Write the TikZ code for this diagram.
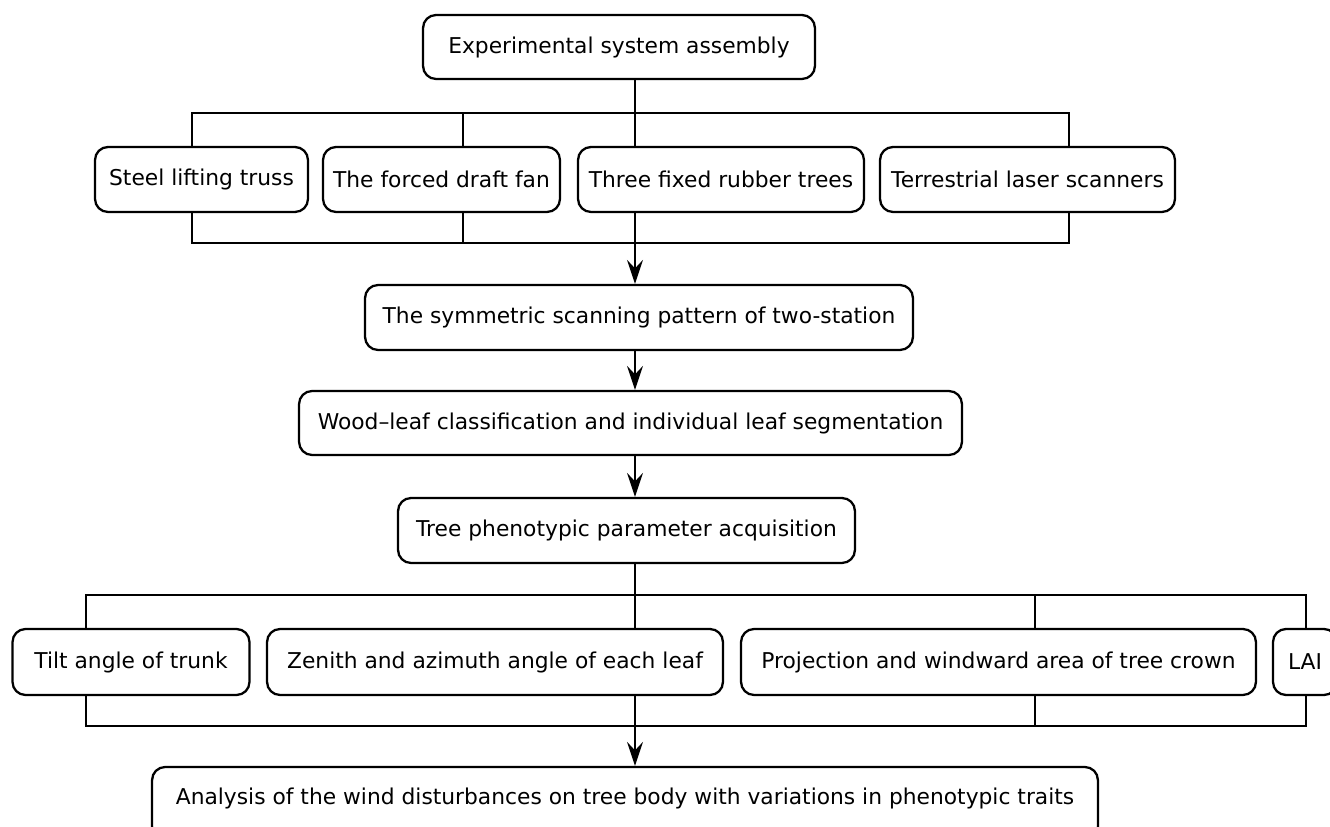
\documentclass[tikz,border=0pt]{standalone}
\usepackage{fontspec}
\setmainfont{DejaVu Sans}
\usetikzlibrary{arrows.meta,positioning}

\begin{document}
\begin{tikzpicture}[
    x=0.02cm,y=-0.02cm,
    box/.style={draw,line width=1.3pt,rounded corners=0.26cm,fill=white,
      minimum height=1.3cm,inner sep=0pt,align=center,
      font=\fontsize{12.4pt}{14pt}\selectfont},
    link/.style={line width=0.75pt},
    arr/.style={link,-{Stealth[length=0.48cm,width=0.32cm,inset=0.17cm]}}
  ]
    \useasboundingbox (0,0) rectangle (1330,827);
    \clip (0,0) rectangle (1330,827);
    \coordinate (spine) at (635,0);

    \node[box,minimum width=7.84cm,minimum height=1.28cm] (assembly) at (619,47) {Experimental system assembly};

    \node[box,minimum width=4.26cm] (truss) at (201.5,179.5) {Steel lifting truss};
    \node[box,minimum width=4.74cm] (fan) at (441.5,179.5) {The forced draft fan};
    \node[box,minimum width=5.72cm] (trees) at (721,179.5) {Three fixed rubber trees};
    \node[box,minimum width=5.9cm] (tls) at (1027.5,179.5) {Terrestrial laser scanners};

    \node[box,minimum width=10.96cm] (pattern) at (639,317.5) {The symmetric scanning pattern of two-station};
    \node[box,minimum width=13.26cm,minimum height=1.28cm] (woodleaf) at (630.5,423) {Wood–leaf classification and individual leaf segmentation};
    \node[box,minimum width=9.14cm] (phenotype) at (626.5,530.5) {Tree phenotypic parameter acquisition};

    \node[box,minimum width=4.74cm,minimum height=1.32cm] (tilt) at (131,662) {Tilt angle of trunk};
    \node[box,minimum width=9.12cm,minimum height=1.32cm] (zenith) at (495,662) {Zenith and azimuth angle of each leaf};
    \node[box,minimum width=10.3cm,minimum height=1.32cm] (crown) at (998.5,662) {Projection and windward area of tree crown};
    \node[box,minimum width=1.28cm,minimum height=1.32cm] (lai) at (1305,662) {LAI};

    % runs off the lower edge
    \node[box,minimum width=18.92cm,minimum height=0pt,text height=0.76cm,text depth=0.7cm,
      anchor=base] (analysis) at (625,805) {Analysis of the wind disturbances on tree body with variations in phenotypic traits};

    % bus corners
    \coordinate (a1) at (192,113);  \coordinate (a2) at (463,113);  \coordinate (a4) at (1069,113);
    \coordinate (b1) at (192,243);  \coordinate (b2) at (463,243);  \coordinate (b4) at (1069,243);
    \coordinate (c1) at (86,595);   \coordinate (c3) at (1035,595); \coordinate (c4) at (1306,595);
    \coordinate (e1) at (86,726);   \coordinate (e3) at (1035,726); \coordinate (e4) at (1306,726);

    \draw[link] (a1 |- truss.north) -- (a1) -- (a4) -- (a4 |- tls.north);
    \draw[link] (a2) -- (a2 |- fan.north);
    \draw[link] (b1 |- truss.south) -- (b1) -- (b4) -- (b4 |- tls.south);
    \draw[link] (b2) -- (b2 |- fan.south);

    \draw[link] (c1 |- tilt.north) -- (c1) -- (c4) -- (c4 |- lai.north);
    \draw[link] (c3) -- (c3 |- crown.north);
    \draw[link] (e1 |- tilt.south) -- (e1) -- (e4) -- (e4 |- lai.south);
    \draw[link] (e3) -- (e3 |- crown.south);

    % main spine
    \draw[link] (assembly.south -| spine) -- (trees.north -| spine);
    \draw[arr] (trees.south -| spine) -- (pattern.north -| spine);
    \draw[arr] (pattern.south -| spine) -- (woodleaf.north -| spine);
    \draw[arr] (woodleaf.south -| spine) -- (phenotype.north -| spine);
    \draw[link] (phenotype.south -| spine) -- (zenith.north -| spine);
    \draw[arr] (zenith.south -| spine) -- (analysis.north -| spine);
  \end{tikzpicture}
\end{document}
